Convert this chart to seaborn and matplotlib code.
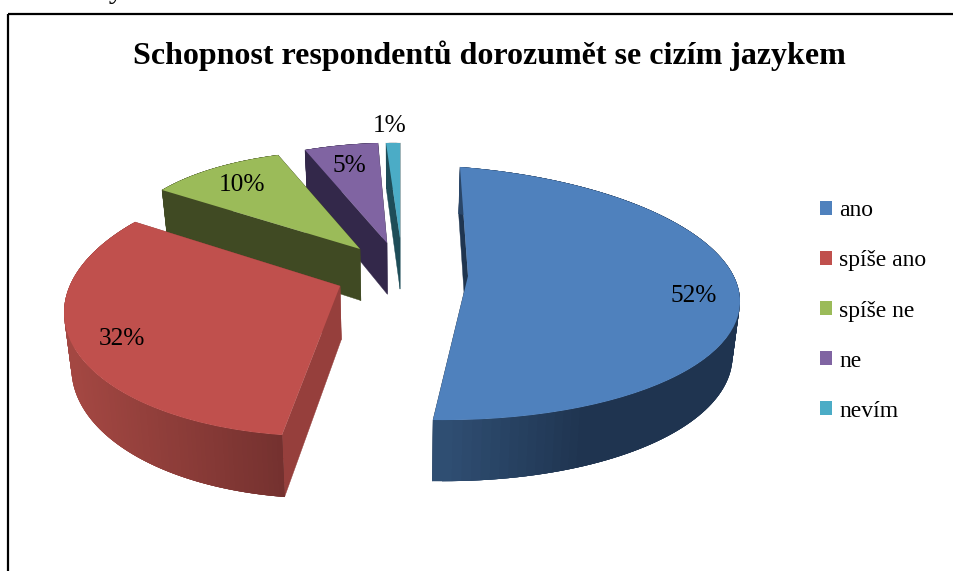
import numpy as np
import matplotlib
matplotlib.use("Agg")
import matplotlib.pyplot as plt
from matplotlib.collections import PolyCollection
from matplotlib.patches import Rectangle
from matplotlib.transforms import Transform
import seaborn as sns

# ---- data ----
categories = ["ano", "spíše ano", "spíše ne", "ne", "nevím"]
values = [52, 32, 10, 5, 1]
title = "Schopnost respondentů dorozumět se cizím jazykem"

# ---- style ----
surface = ["#4F81BD", "#C0504D", "#9BBB59", "#8064A2", "#4BACC6"]
cut_col = ["#1F3550", "#963F3C", "#404A23", "#33284A", "#1E4D58"]
wall_a = ["#2F4E72", "#A34742", "#404A23", "#33284A", "#1E4D58"]
wall_b = ["#1F3450", "#72302E", "#404A23", "#33284A", "#1E4D58"]
START = 91.0
label_xy = [(694, 296), (122, 339), (242, 185), (349, 166), (390, 126)]
# calibration of the 3-D view: apex, rim at first edge, rim at last edge, rim at extra angle
view = [
    dict(apex=(468, 276), a=(460, 167), b=(433, 420), ang=-8.0, c=(740, 300)),
    dict(apex=(340, 286), a=(282, 435), b=(135, 222), ang=192.0, c=(64, 312)),
    dict(apex=(360, 249), a=(162, 190), b=(278, 155)),
    dict(apex=(387, 243), a=(305, 150), b=(378, 143)),
    dict(apex=(400, 238), a=(386, 143), b=(400, 143)),
]


def homography(src, dst):
    A, y = [], []
    for (u, v), (p, q) in zip(src, dst):
        A.append([u, v, 1, 0, 0, 0, -u * p, -v * p]); y.append(p)
        A.append([0, 0, 0, u, v, 1, -u * q, -v * q]); y.append(q)
    h = np.linalg.solve(np.array(A, float), np.array(y, float))
    return np.append(h, 1).reshape(3, 3)


def apply(H, pts):
    pts = np.atleast_2d(pts)
    w = np.c_[pts, np.ones(len(pts))] @ H.T
    return w[:, :2] / w[:, 2:]


class Project(Transform):
    input_dims = output_dims = 2
    is_affine = False

    def __init__(self, H):
        super().__init__()
        self.H = H

    def transform_non_affine(self, values):
        return apply(self.H, values)


def extrude(p):
    p = np.atleast_2d(p)
    return np.c_[p[:, 0] + (400 - p[:, 0]) * 0.022, p[:, 1] + 46 + 0.056 * (p[:, 1] - 150)]


def unit(deg):
    r = np.radians(deg)
    return np.c_[np.cos(r), np.sin(r)]


sns.set_theme(style="white")
palette = sns.color_palette(surface)
plt.rcParams["font.family"] = ["Liberation Serif", "DejaVu Serif"]
plt.rcParams["text.color"] = "black"

fig = plt.figure(figsize=(9.54, 5.71), dpi=100, facecolor="white")
ax = fig.add_axes([0, 0, 1, 1])
wedges, _, autotexts = ax.pie(
    values, colors=palette, startangle=START, counterclock=False,
    autopct=lambda p: f"{p:.0f}%", textprops=dict(fontsize=18.3, color="black"),
    wedgeprops=dict(linewidth=0),
)
ax.set_aspect("auto")
ax.set_xlim(0, 954)
ax.set_ylim(571, 0)
ax.axis("off")

for i, w in enumerate(wedges):
    t1, t2 = w.theta1, w.theta2      # ccw order; t2 is the first edge clockwise
    v = view[i]
    apex, pa, pb = map(np.array, (v["apex"], v["a"], v["b"]))
    ua, ub = unit(t2)[0], unit(t1)[0]
    if "c" in v:
        src = [(0, 0), ua, ub, unit(v["ang"])[0]]
        dst = [apex, pa, pb, v["c"]]
    else:
        src = [(0, 0), ua, ub, ua + ub]
        dst = [apex, pa, pb, pa + pb - apex]
    H = homography(src, dst)
    order = 5 - i
    w.set_transform(Project(H) + ax.transData)
    w.set_zorder(order + 0.6)

    # cut faces
    faces = []
    for e in (pa, pb):
        q = np.array([apex, e])
        faces.append(np.vstack([q, extrude(q)[::-1]]))
    ax.add_collection(PolyCollection(faces, facecolors=cut_col[i], edgecolors=cut_col[i],
                                     linewidths=0.3, zorder=order + 0.1))
    # outer wall: overlapping strips so that no seams show
    th = np.linspace(t1, t2, 121)
    rim = apply(H, unit(th))
    low = extrude(rim)
    step = 2
    idx = np.arange(0, len(th) - 1, 1)
    quads = [np.array([rim[j], rim[min(j + step, len(th) - 1)],
                       low[min(j + step, len(th) - 1)], low[j]]) for j in idx]
    xm = rim[:-1, 0]
    if i == 0:
        f = np.clip((xm - 433) / 140, 0, 1)
    elif i == 1:
        f = np.clip((xm - 72) / 213, 0, 1)
    else:
        f = np.zeros_like(xm)
    ca = np.array(matplotlib.colors.to_rgb(wall_a[i]))
    cb = np.array(matplotlib.colors.to_rgb(wall_b[i]))
    cols = ca + (cb - ca) * f[:, None]
    # paint from the far end of the gradient so each strip overlaps the last seam
    ax.add_collection(PolyCollection(quads, facecolors=cols, edgecolors="none",
                                     linewidths=0, zorder=order + 0.2))
    ax.add_collection(PolyCollection(quads[::-1], facecolors=cols[::-1], edgecolors="none",
                                     linewidths=0, zorder=order + 0.25))

for t, xy in zip(autotexts, label_xy):
    t.set_position(xy)
    t.set_zorder(20)
    t.set_ha("center")
    t.set_va("center")

ax.text(489, 56, title, fontsize=23, fontweight="bold", ha="center", va="center", zorder=20)
ax.text(27, -3, "ověřeny:", fontsize=22, ha="left", va="baseline", zorder=20)

ax.add_patch(Rectangle((8.5, 13.5), 960, 600, fill=False, edgecolor="black", linewidth=1.6, zorder=30))

ax.legend(wedges, categories, loc="upper left", bbox_to_anchor=(0.860, 0.649),
          bbox_transform=fig.transFigure, frameon=False, fontsize=17,
          handlelength=0.5, handleheight=0.5, handletextpad=0.29,
          labelspacing=1.23, borderpad=0, borderaxespad=0)

fig.savefig("out.png", dpi=100, facecolor="white")
